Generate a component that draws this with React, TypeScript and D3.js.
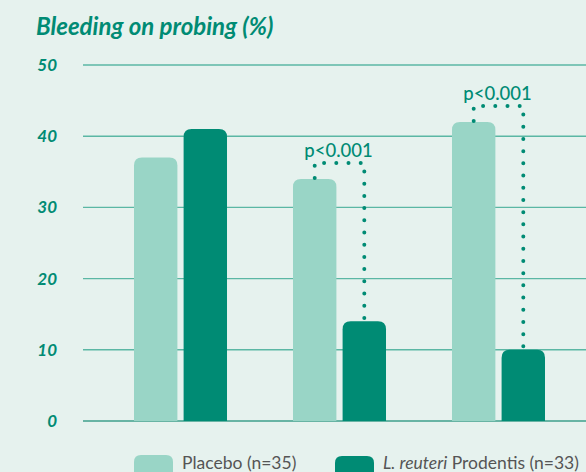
import React from 'react';
import * as d3 from 'd3';

const groups = ['Baseline', 'Month 1', 'Month 2'];
const placebo = [37, 34, 42];
const reuteri = [41, 14, 10];
const yTicks = [0, 10, 20, 30, 40, 50];
const significance = ['', 'p<0.001', 'p<0.001'];

const W = 586;
const H = 472;
const BG = '#e6f2ee';
const TEAL = '#008b74';
const LIGHT = '#99d5c6';

// rounded-top bar path
const barPath = (x: number, y: number, w: number, h: number, r: number) => {
  const rr = Math.min(r, h / 2, w / 2);
  return `M${x},${y + h}V${y + rr}Q${x},${y} ${x + rr},${y}H${x + w - rr}Q${x + w},${y} ${x + w},${y + rr}V${y + h}Z`;
};

const App = () => {
  const y = d3.scaleLinear().domain([0, 50]).range([421, 65]);
  const x0 = d3.scaleBand().domain(groups).range([134, 545]).paddingInner(0.415).paddingOuter(0);
  const x1 = d3.scaleBand().domain(['placebo', 'reuteri']).range([0, x0.bandwidth()]).paddingInner(0.125);

  return (
    <svg width={W} height={H} style={{ position: 'fixed', top: 0, left: 0, background: BG }} fontFamily="Lato, sans-serif">
      <rect width={W} height={H} fill={BG} />
      <text x={36} y={35} fill={TEAL} fontSize={24} fontStyle="italic" fontWeight={700}>
        Bleeding on probing (%)
      </text>
      {yTicks.map((t) => (
        <g key={t}>
          <line x1={83} x2={W} y1={y(t)} y2={y(t)} stroke={t === 0 ? '#3e9f8b' : '#5bb7a4'} strokeWidth={1.4} />
          <text x={57} y={y(t) + 6} textAnchor="end" fill={TEAL} fontSize={17} fontStyle="italic" fontWeight={700}>
            {t}
          </text>
        </g>
      ))}
      {groups.map((g, i) => {
        const gx = x0(g)!;
        const px = gx + x1('placebo')!;
        const rx = gx + x1('reuteri')!;
        const bw = x1.bandwidth();
        const pTop = y(placebo[i]);
        const rTop = y(reuteri[i]);
        const lineY = pTop - 16;
        return (
          <g key={g}>
            <path d={barPath(px, pTop, bw, y(0) - pTop, 8)} fill={LIGHT} />
            <path d={barPath(rx, rTop, bw, y(0) - rTop, 8)} fill={TEAL} />
            {significance[i] && (
              <g>
                <path
                  d={`M${px + bw / 2},${pTop - 1}V${lineY}H${rx + bw / 2}V${rTop}`}
                  fill="none"
                  stroke={TEAL}
                  strokeWidth={4}
                  strokeLinecap="round"
                  strokeDasharray="0 12.2"
                />
                <text x={(px + rx + bw) / 2 - 1} y={lineY - 6} textAnchor="middle" fill={TEAL} fontSize={18.5} fontWeight={500}>
                  {significance[i]}
                </text>
              </g>
            )}
          </g>
        );
      })}
      <g>
        <path d={barPath(134, 455, 39, 30, 7)} fill={LIGHT} />
        <text x={182} y={469} fill="#555" fontSize={17.5}>Placebo (n=35)</text>
        <path d={barPath(335, 456, 39, 30, 7)} fill={TEAL} />
        <text x={383} y={469} fill="#555" fontSize={17.5}>
          <tspan fontStyle="italic">L. reuteri</tspan> Prodentis (n=33)
        </text>
      </g>
    </svg>
  );
};

export default App;
